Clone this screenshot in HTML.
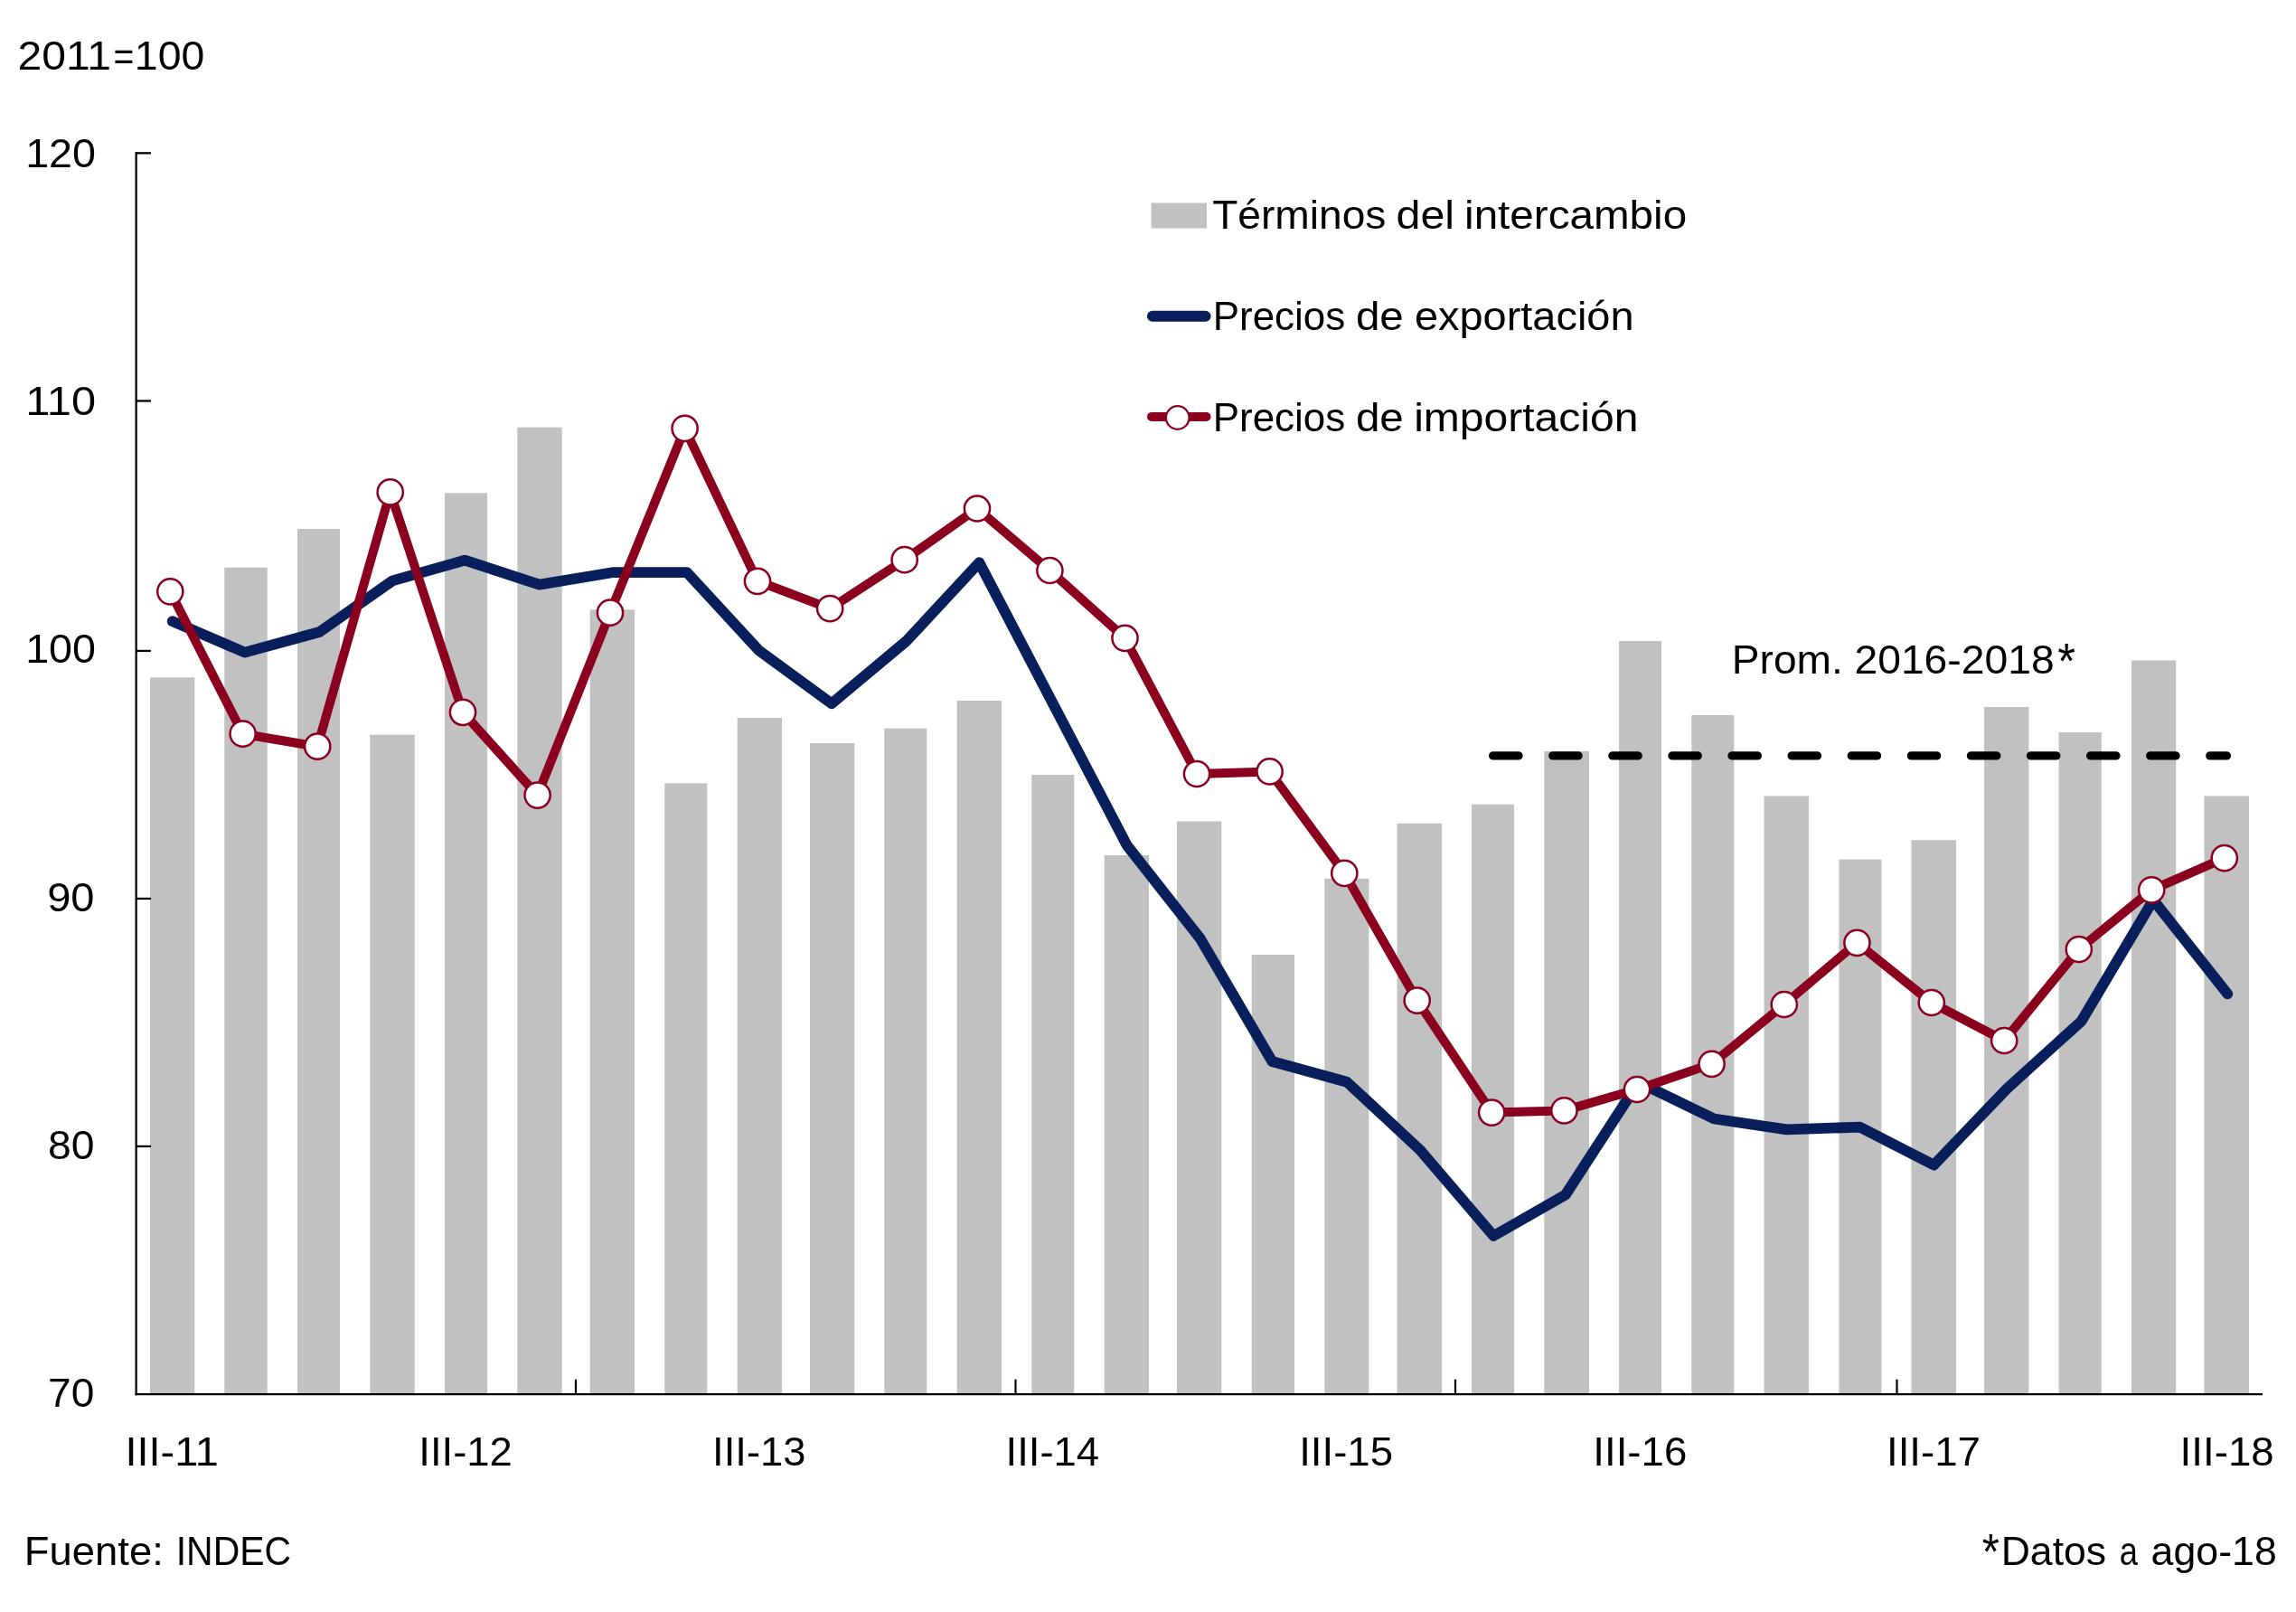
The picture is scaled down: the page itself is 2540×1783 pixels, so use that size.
<!DOCTYPE html>
<html><head><meta charset="utf-8"><title>Chart</title>
<style>html,body{margin:0;padding:0;background:#fff}svg{display:block;will-change:transform}text{font-family:"Liberation Sans",sans-serif;fill:#000}</style></head><body>
<svg width="2540" height="1783" viewBox="0 0 2540 1783">
<rect width="2540" height="1783" fill="#fff"/>
<g fill="#C1C1C1">
<rect x="166" y="749.3" width="49.3" height="792.2"/>
<rect x="248.3" y="627.7" width="47.4" height="913.8"/>
<rect x="329" y="585" width="47.0" height="956.5"/>
<rect x="409.3" y="812.7" width="49.4" height="728.8"/>
<rect x="492" y="545.3" width="47.0" height="996.2"/>
<rect x="572.3" y="472.7" width="49.4" height="1068.8"/>
<rect x="652.7" y="674.3" width="49.3" height="867.2"/>
<rect x="735.3" y="866.3" width="47.0" height="675.2"/>
<rect x="815.7" y="794" width="49.3" height="747.5"/>
<rect x="896" y="822" width="49.3" height="719.5"/>
<rect x="978.3" y="805.7" width="47.0" height="735.8"/>
<rect x="1058.7" y="775" width="49.3" height="766.5"/>
<rect x="1141.3" y="857" width="47.0" height="684.5"/>
<rect x="1221.7" y="946" width="49.3" height="595.5"/>
<rect x="1302" y="908.5" width="49.3" height="633.0"/>
<rect x="1384.7" y="1056" width="47.3" height="485.5"/>
<rect x="1465.3" y="971.8" width="49.0" height="569.7"/>
<rect x="1545.5" y="910.7" width="49.5" height="630.8"/>
<rect x="1628" y="889.7" width="47.0" height="651.8"/>
<rect x="1708.3" y="831" width="49.7" height="710.5"/>
<rect x="1791" y="709" width="47.0" height="832.5"/>
<rect x="1871.3" y="791" width="47.0" height="750.5"/>
<rect x="1951.5" y="880.4" width="49.5" height="661.1"/>
<rect x="2034.4" y="950.6" width="47.0" height="590.9"/>
<rect x="2114.4" y="929.2" width="49.6" height="612.3"/>
<rect x="2195" y="782" width="49.4" height="759.5"/>
<rect x="2277.6" y="810" width="47.2" height="731.5"/>
<rect x="2358" y="730.5" width="49.2" height="811.0"/>
<rect x="2438.4" y="880.4" width="49.6" height="661.1"/>
</g>
<g fill="#000">
<rect x="149.5" y="168" width="2.25" height="1375.25"/>
<rect x="149.5" y="1541" width="2353.5" height="2.25"/>
<rect x="150" y="168.2" width="17" height="2.3"/>
<rect x="150" y="442.3" width="17" height="2.3"/>
<rect x="150" y="718.8" width="17" height="2.3"/>
<rect x="150" y="992.8" width="17" height="2.3"/>
<rect x="150" y="1266.8" width="17" height="2.3"/>
<rect x="635.9" y="1525.7" width="2.2" height="16.3"/>
<rect x="1122.4" y="1525.7" width="2.2" height="16.3"/>
<rect x="1608.9" y="1525.7" width="2.2" height="16.3"/>
<rect x="2097.4" y="1525.7" width="2.2" height="16.3"/>
</g>
<path d="M1651.65 835.9H2463.4" stroke="#000" stroke-width="9.3" stroke-linecap="round" stroke-dasharray="28.3 37.8" fill="none"/>
<polyline points="190.7,687.2 270.8,721.6 353.5,699 434.2,642.4 514.2,619.6 596.6,646.6 677.4,633.2 760,633.2 839.6,719.6 920,778.2 1003.2,708.6 1083.3,622.2 1165,778.5 1246.7,935 1327.7,1038 1407.3,1174 1490,1196.7 1570.7,1271.7 1652.3,1367 1731.7,1321.7 1812.7,1197 1896.2,1237.5 1976.7,1249.3 2057.7,1246.7 2139.3,1288.6 2220,1204.3 2302.7,1129.3 2382.1,995.5 2464.3,1099.3" fill="none" stroke="#091F5B" stroke-width="11.8" stroke-linejoin="round" stroke-linecap="round"/>
<polyline points="188.3,654.3 268.6,811.7 351.2,825.7 431.7,544.4 512,787.8 594.6,879.6 675,677.7 757.6,473.8 838,642.8 918.2,673.1 1000.7,619.2 1081,562.5 1161.4,631 1244.5,705.8 1324,856 1404.6,853.4 1487.3,965.8 1567.7,1106.6 1650.2,1230.6 1730.4,1228.4 1811,1205 1893.6,1176.8 1973.8,1111 2054.4,1042.8 2136.8,1109 2217.2,1151 2299.8,1050 2380.2,984.4 2460.8,949.2" fill="none" stroke="#8B001E" stroke-width="10" stroke-linejoin="round" stroke-linecap="round"/>
<g fill="#fff" stroke="#8B001E" stroke-width="2.5">
<circle cx="188.3" cy="654.3" r="14.1"/>
<circle cx="268.6" cy="811.7" r="14.1"/>
<circle cx="351.2" cy="825.7" r="14.1"/>
<circle cx="431.7" cy="544.4" r="14.1"/>
<circle cx="512" cy="787.8" r="14.1"/>
<circle cx="594.6" cy="879.6" r="14.1"/>
<circle cx="675" cy="677.7" r="14.1"/>
<circle cx="757.6" cy="473.8" r="14.1"/>
<circle cx="838" cy="642.8" r="14.1"/>
<circle cx="918.2" cy="673.1" r="14.1"/>
<circle cx="1000.7" cy="619.2" r="14.1"/>
<circle cx="1081" cy="562.5" r="14.1"/>
<circle cx="1161.4" cy="631" r="14.1"/>
<circle cx="1244.5" cy="705.8" r="14.1"/>
<circle cx="1324" cy="856" r="14.1"/>
<circle cx="1404.6" cy="853.4" r="14.1"/>
<circle cx="1487.3" cy="965.8" r="14.1"/>
<circle cx="1567.7" cy="1106.6" r="14.1"/>
<circle cx="1650.2" cy="1230.6" r="14.1"/>
<circle cx="1730.4" cy="1228.4" r="14.1"/>
<circle cx="1811" cy="1205" r="14.1"/>
<circle cx="1893.6" cy="1176.8" r="14.1"/>
<circle cx="1973.8" cy="1111" r="14.1"/>
<circle cx="2054.4" cy="1042.8" r="14.1"/>
<circle cx="2136.8" cy="1109" r="14.1"/>
<circle cx="2217.2" cy="1151" r="14.1"/>
<circle cx="2299.8" cy="1050" r="14.1"/>
<circle cx="2380.2" cy="984.4" r="14.1"/>
<circle cx="2460.8" cy="949.2" r="14.1"/>
</g>
<rect x="1273.5" y="224.4" width="61.5" height="28.1" fill="#C1C1C1"/>
<path d="M1274.9 349.8H1333.6" stroke="#091F5B" stroke-width="12" stroke-linecap="round" fill="none"/>
<path d="M1274 460.9H1334.5" stroke="#8B001E" stroke-width="10" stroke-linecap="round" fill="none"/>
<circle cx="1302.7" cy="462" r="12.8" fill="#fff" stroke="#8B001E" stroke-width="2.3"/>
<text x="19.59" y="77.00" font-size="45.0" textLength="103.34" lengthAdjust="spacingAndGlyphs">2011</text>
<text x="125.50" y="77.00" font-size="45.0" textLength="22.75" lengthAdjust="spacingAndGlyphs">=</text>
<text x="148.89" y="77.00" font-size="45.0" textLength="77.45" lengthAdjust="spacingAndGlyphs">100</text>
<text x="28.18" y="185.10" font-size="45.0" textLength="77.86" lengthAdjust="spacingAndGlyphs">120</text>
<text x="28.33" y="459.00" font-size="45.0" textLength="77.70" lengthAdjust="spacingAndGlyphs">110</text>
<text x="28.18" y="733.20" font-size="45.0" textLength="77.86" lengthAdjust="spacingAndGlyphs">100</text>
<text x="52.17" y="1008.20" font-size="45.0" textLength="52.36" lengthAdjust="spacingAndGlyphs">90</text>
<text x="53.02" y="1282.30" font-size="45.0" textLength="51.48" lengthAdjust="spacingAndGlyphs">80</text>
<text x="53.04" y="1556.10" font-size="45.0" textLength="51.26" lengthAdjust="spacingAndGlyphs">70</text>
<text x="26.84" y="1731.10" font-size="45.0" textLength="153.93" lengthAdjust="spacingAndGlyphs">Fuente:</text>
<text x="194.70" y="1731.10" font-size="45.0" textLength="127.38" lengthAdjust="spacingAndGlyphs">INDEC</text>
<text x="2213.69" y="1730.90" font-size="45.0" textLength="116.40" lengthAdjust="spacingAndGlyphs">Datos</text>
<text x="2192.71" y="1734.70" font-size="55" textLength="19.05" lengthAdjust="spacingAndGlyphs">*</text>
<text x="2344.87" y="1730.90" font-size="45.0" textLength="20.19" lengthAdjust="spacingAndGlyphs">a</text>
<text x="2379.55" y="1730.90" font-size="45.0" textLength="139.20" lengthAdjust="spacingAndGlyphs">ago-18</text>
<text x="1341.15" y="252.70" font-size="45.0" textLength="192.23" lengthAdjust="spacingAndGlyphs">Términos</text>
<text x="1544.51" y="252.70" font-size="45.0" textLength="64.62" lengthAdjust="spacingAndGlyphs">del</text>
<text x="1620.07" y="252.70" font-size="45.0" textLength="246.07" lengthAdjust="spacingAndGlyphs">intercambio</text>
<text x="1341.73" y="364.90" font-size="45.0" textLength="146.51" lengthAdjust="spacingAndGlyphs">Precios</text>
<text x="1499.90" y="364.90" font-size="45.0" textLength="52.88" lengthAdjust="spacingAndGlyphs">de</text>
<text x="1564.90" y="364.90" font-size="45.0" textLength="242.71" lengthAdjust="spacingAndGlyphs">exportación</text>
<text x="1341.73" y="476.90" font-size="45.0" textLength="146.51" lengthAdjust="spacingAndGlyphs">Precios</text>
<text x="1499.90" y="476.90" font-size="45.0" textLength="52.88" lengthAdjust="spacingAndGlyphs">de</text>
<text x="1564.17" y="476.90" font-size="45.0" textLength="248.23" lengthAdjust="spacingAndGlyphs">importación</text>
<text x="1915.80" y="745.10" font-size="45.0" textLength="122.94" lengthAdjust="spacingAndGlyphs">Prom.</text>
<text x="2051.43" y="745.10" font-size="45.0" textLength="221.26" lengthAdjust="spacingAndGlyphs">2016-2018</text>
<text x="2276.32" y="749.60" font-size="55" textLength="19.76" lengthAdjust="spacingAndGlyphs">*</text>
<text x="138.50" y="1620.80" font-size="45.0" textLength="103.37" lengthAdjust="spacingAndGlyphs">III-11</text>
<text x="463.35" y="1620.80" font-size="45.0" textLength="103.53" lengthAdjust="spacingAndGlyphs">III-12</text>
<text x="788.03" y="1620.80" font-size="45.0" textLength="103.53" lengthAdjust="spacingAndGlyphs">III-13</text>
<text x="1112.55" y="1620.80" font-size="45.0" textLength="103.57" lengthAdjust="spacingAndGlyphs">III-14</text>
<text x="1437.13" y="1620.80" font-size="45.0" textLength="103.92" lengthAdjust="spacingAndGlyphs">III-15</text>
<text x="1762.34" y="1620.80" font-size="45.0" textLength="103.95" lengthAdjust="spacingAndGlyphs">III-16</text>
<text x="2086.96" y="1620.80" font-size="45.0" textLength="104.00" lengthAdjust="spacingAndGlyphs">III-17</text>
<text x="2411.61" y="1620.80" font-size="45.0" textLength="104.15" lengthAdjust="spacingAndGlyphs">III-18</text>
</svg></body></html>
